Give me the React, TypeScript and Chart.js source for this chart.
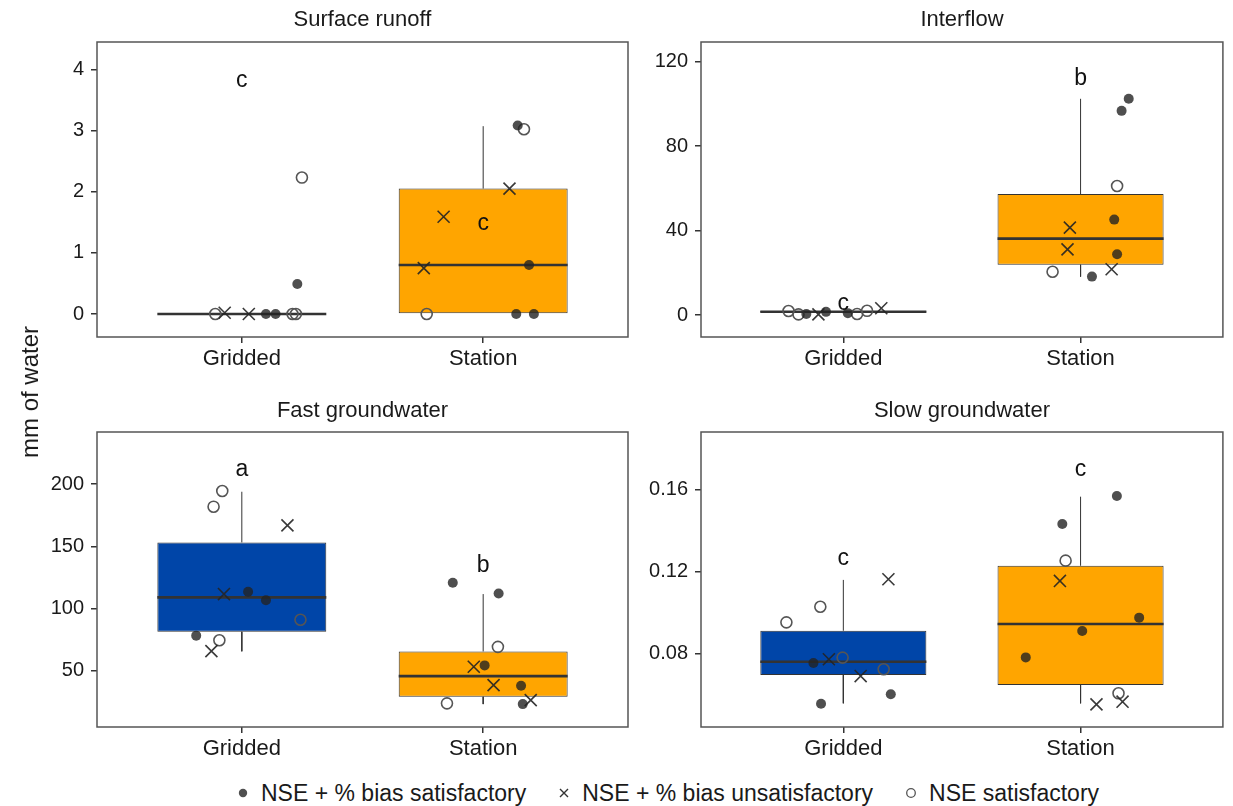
import React, { useEffect, useRef } from 'react';
import { Chart, registerables } from 'chart.js';

Chart.register(...registerables);

const FONT = "'Liberation Sans', Arial, Helvetica, sans-serif";

const CATEGORIES = ['Gridded', 'Station'];
const BOX_COLORS = ['#0045A8', '#FFA500'];
const LEGEND_LABELS = ['NSE + % bias satisfactory', 'NSE + % bias unsatisfactory', 'NSE satisfactory'];

// Box statistics per category: [min, q1, median, q3, max]
// Points: [category, jitter, value]

// Surface runoff
const SR_BOX = [
  [0, 0, 0, 0, 0],
  [0, 0, 0.8, 2.05, 3.07],
];
const SR_SAT = [[1, 0.1, 0], [1, 0.14, 0], [1, 0.23, 0.49], [2, 0.143, 3.08], [2, 0.19, 0.8], [2, 0.137, 0], [2, 0.21, 0]];
const SR_UNSAT = [[1, -0.071, 0.02], [1, 0.029, 0], [2, 0.109, 2.05], [2, -0.164, 1.59], [2, -0.246, 0.75]];
const SR_NSE = [[1, -0.11, 0], [1, 0.21, 0], [1, 0.224, 0], [1, 0.249, 2.23], [2, 0.169, 3.02], [2, -0.234, 0]];
const SR_LETTERS = ['c', 'c'];
const SR_LETTER_Y = [3.81, 1.48];
const SR_TICKS = [0, 1, 2, 3, 4];
const SR_TICK_LABELS = ['0', '1', '2', '3', '4'];

// Interflow
const IF_BOX = [
  [1.2, 1.2, 1.56, 1.9, 1.9],
  [18.2, 23.8, 36.2, 57.3, 102.4],
];
const IF_SAT = [[1, -0.156, 0.5], [1, -0.073, 1.5], [1, 0.019, 0.9], [2, 0.203, 102.4], [2, 0.173, 96.7], [2, 0.142, 45.2], [2, 0.154, 28.8], [2, 0.048, 18.2]];
const IF_UNSAT = [[1, -0.105, 0.3], [1, 0.16, 3.2], [2, -0.045, 41.4], [2, -0.055, 31.1], [2, 0.131, 21.7]];
const IF_NSE = [[1, -0.231, 1.9], [1, -0.189, 0.3], [1, 0.058, 0.5], [1, 0.1, 2.0], [2, 0.154, 61.1], [2, -0.118, 20.5]];
const IF_LETTERS = ['c', 'b'];
const IF_LETTER_Y = [5.5, 111.8];
const IF_TICKS = [0, 40, 80, 120];
const IF_TICK_LABELS = ['0', '40', '80', '120'];

// Fast groundwater
const FG_BOX = [
  [65.6, 81.3, 108.9, 153.1, 193.8],
  [23.2, 29.1, 45.7, 65.5, 111.6],
];
const FG_SAT = [[1, 0.026, 113.5], [1, 0.1, 106.6], [1, -0.189, 78.2], [2, -0.126, 120.7], [2, 0.064, 112.1], [2, 0.006, 54.3], [2, 0.157, 37.9], [2, 0.164, 23.2]];
const FG_UNSAT = [[1, 0.189, 166.8], [1, -0.074, 111.6], [1, -0.126, 65.8], [2, -0.039, 53.2], [2, 0.043, 38.4], [2, 0.197, 26.4]];
const FG_NSE = [[1, -0.081, 194.4], [1, -0.117, 181.8], [1, 0.243, 91.0], [1, -0.093, 74.5], [2, 0.061, 69.2], [2, -0.15, 23.8]];
const FG_LETTERS = ['a', 'b'];
const FG_LETTER_Y = [211.3, 134.4];
const FG_TICKS = [50, 100, 150, 200];
const FG_TICK_LABELS = ['50', '100', '150', '200'];

// Slow groundwater
const SG_BOX = [
  [0.0556, 0.0694, 0.0759, 0.091, 0.1158],
  [0.0556, 0.0645, 0.0943, 0.1227, 0.1564],
];
const SG_SAT = [[1, -0.126, 0.0753], [1, 0.2, 0.06], [1, -0.094, 0.0554], [2, 0.153, 0.1567], [2, -0.077, 0.1431], [2, 0.247, 0.0974], [2, 0.007, 0.0909], [2, -0.231, 0.078]];
const SG_UNSAT = [[1, 0.19, 0.1161], [1, -0.061, 0.0771], [1, 0.073, 0.0689], [2, -0.087, 0.1153], [2, 0.177, 0.0564], [2, 0.067, 0.0551]];
const SG_NSE = [[1, -0.24, 0.0951], [1, -0.097, 0.1027], [1, -0.003, 0.0779], [1, 0.17, 0.0722], [2, -0.063, 0.1252], [2, 0.16, 0.0605]];
const SG_LETTERS = ['c', 'c'];
const SG_LETTER_Y = [0.1263, 0.1694];
const SG_TICKS = [0.08, 0.12, 0.16];
const SG_TICK_LABELS = ['0.08', '0.12', '0.16'];

type PanelProps = {
  title: string;
  box: number[][];
  sat: number[][];
  unsat: number[][];
  nse: number[][];
  letters: string[];
  letterY: number[];
  ticks: number[];
  tickLabels: string[];
  yMin: number;
  yMax: number;
  boxColors: string[];
  left: number;
  top: number;
  width: number;
  height: number;
  yAxisWidth: number;
  padRight: number;
  padBottom: number;
  titlePadTop: number;
  titlePadBottom: number;
};

const BOX_HALF = 0.35;

function Panel(p: PanelProps) {
  const ref = useRef<HTMLCanvasElement | null>(null);
  useEffect(() => {
    if (!ref.current) return;
    const toPts = (arr: number[][]) => arr.map(([c, j, v]) => ({ x: c + j, y: v }));
    const medians: any[] = [];
    const whiskers: any[] = [];
    p.box.forEach((b, i) => {
      const c = i + 1;
      medians.push({ x: c - BOX_HALF, y: b[2] }, { x: c + BOX_HALF, y: b[2] }, { x: c + 0.5, y: null });
      whiskers.push(
        { x: c, y: b[3] }, { x: c, y: b[4] }, { x: c, y: null },
        { x: c, y: b[1] }, { x: c, y: b[0] }, { x: c + 0.5, y: null }
      );
    });

    const framePlugin = {
      id: 'frame',
      afterDatasetsDraw(chart: any) {
        const { ctx, chartArea: a } = chart;
        ctx.save();
        ctx.strokeStyle = '#555555';
        ctx.lineWidth = 1.5;
        ctx.strokeRect(a.left, a.top, a.right - a.left, a.bottom - a.top);
        ctx.restore();
      },
    };
    const letterPlugin = {
      id: 'letters',
      afterDatasetsDraw(chart: any) {
        const { ctx } = chart;
        const xs = chart.scales.x;
        const ys = chart.scales.y;
        ctx.save();
        ctx.font = `23px ${FONT}`;
        ctx.fillStyle = '#111111';
        ctx.textAlign = 'center';
        ctx.textBaseline = 'middle';
        p.letters.forEach((l, i) => {
          ctx.fillText(l, xs.getPixelForValue(i + 1), ys.getPixelForValue(p.letterY[i]));
        });
        ctx.restore();
      },
    };

    const tickFont = { family: FONT, size: 20 };
    const chart = new Chart(ref.current, {
      type: 'bar',
      data: {
        datasets: [
          {
            type: 'scatter',
            label: LEGEND_LABELS[0],
            data: toPts(p.sat),
            pointStyle: 'circle',
            pointRadius: 5,
            backgroundColor: 'rgba(35,35,35,0.8)',
            borderWidth: 0,
            order: 0,
          } as any,
          {
            type: 'scatter',
            label: LEGEND_LABELS[1],
            data: toPts(p.unsat),
            pointStyle: 'crossRot',
            pointRadius: 8.5,
            borderColor: 'rgba(35,35,35,0.9)',
            backgroundColor: 'rgba(35,35,35,0.9)',
            borderWidth: 1.6,
            order: 0,
          },
          {
            type: 'scatter',
            label: LEGEND_LABELS[2],
            data: toPts(p.nse),
            pointStyle: 'circle',
            pointRadius: 5.5,
            backgroundColor: 'rgba(0,0,0,0)',
            borderColor: '#555555',
            borderWidth: 1.6,
            order: 0,
          },
          {
            type: 'line',
            label: 'median',
            data: medians,
            borderColor: '#333333',
            borderWidth: 2.6,
            pointRadius: 0,
            spanGaps: false,
            order: 1,
          },
          {
            type: 'bar',
            label: 'box',
            data: p.box.map((b, i) => ({ x: i + 1, y: [b[1], b[3]] })),
            backgroundColor: p.boxColors,
            borderColor: '#333333',
            borderWidth: 1,
            borderSkipped: false,
            barPercentage: BOX_HALF * 2,
            categoryPercentage: 1,
            order: 2,
          } as any,
          {
            type: 'line',
            label: 'whisker',
            data: whiskers,
            borderColor: '#333333',
            borderWidth: 1,
            pointRadius: 0,
            spanGaps: false,
            order: 3,
          },
        ],
      },
      options: {
        animation: false,
        responsive: false,
        maintainAspectRatio: false,
        layout: { padding: { left: 0, right: p.padRight, top: 0, bottom: p.padBottom } },
        plugins: {
          legend: { display: false },
          tooltip: { enabled: false },
          title: {
            display: true,
            text: p.title,
            fullSize: false,
            color: '#1a1a1a',
            font: { family: FONT, size: 22, weight: 'normal' },
            padding: { top: p.titlePadTop, bottom: p.titlePadBottom },
          },
        },
        scales: {
          x: {
            type: 'linear',
            min: 0.4,
            max: 2.6,
            offset: false,
            afterBuildTicks: (s: any) => {
              s.ticks = CATEGORIES.map((_, i) => ({ value: i + 1 }));
            },
            afterFit: (s: any) => {
              s.height = 40;
            },
            ticks: {
              callback: (v: any) => CATEGORIES[Math.round(Number(v)) - 1],
              font: { family: FONT, size: 22 },
              color: '#1a1a1a',
              padding: 3,
              autoSkip: false,
              maxRotation: 0,
            },
            grid: { display: true, offset: false, drawOnChartArea: false, drawTicks: true, tickLength: 6, color: '#333333', lineWidth: 1.5 },
            border: { display: false },
          },
          y: {
            type: 'linear',
            min: p.yMin,
            max: p.yMax,
            afterBuildTicks: (s: any) => {
              s.ticks = p.ticks.map((v) => ({ value: v }));
            },
            afterFit: (s: any) => {
              s.width = p.yAxisWidth;
            },
            ticks: {
              callback: (_v: any, i: number) => p.tickLabels[i],
              font: tickFont,
              color: '#1a1a1a',
              padding: 7,
            },
            grid: { display: true, drawOnChartArea: false, drawTicks: true, tickLength: 6, color: '#333333', lineWidth: 1.5 },
            border: { display: false },
          },
        },
      } as any,
      plugins: [framePlugin, letterPlugin],
    });
    return () => chart.destroy();
  }, []);
  return (
    <canvas
      ref={ref}
      width={p.width}
      height={p.height}
      style={{ position: 'absolute', left: p.left, top: p.top, width: p.width, height: p.height }}
    />
  );
}

function LegendDot() {
  return (
    <svg width="12" height="12" style={{ marginRight: 12 }}>
      <circle cx="6" cy="6" r="4.2" fill="rgba(35,35,35,0.8)" />
    </svg>
  );
}
function LegendCross() {
  return (
    <svg width="12" height="12" style={{ marginRight: 12 }}>
      <path d="M2 2 L10 10 M10 2 L2 10" stroke="#333" strokeWidth="1.4" />
    </svg>
  );
}
function LegendOpen() {
  return (
    <svg width="12" height="12" style={{ marginRight: 12 }}>
      <circle cx="6" cy="6" r="4.3" fill="none" stroke="#555" strokeWidth="1.3" />
    </svg>
  );
}

export default function App() {
  const top = { top: 0, height: 395, padBottom: 18, titlePadTop: 6.8, titlePadBottom: 8.8 };
  const bottom = { top: 395, height: 380, padBottom: 8, titlePadTop: 2.8, titlePadBottom: 7.8 };
  const left = { left: 0, width: 640, yAxisWidth: 97, padRight: 12 };
  const right = { left: 640, width: 593, yAxisWidth: 61, padRight: 3 };
  return (
    <div style={{ position: 'fixed', left: 0, top: 0, width: 1233, height: 806, background: '#ffffff', overflow: 'hidden' }}>
      <Panel title="Surface runoff" box={SR_BOX} sat={SR_SAT} unsat={SR_UNSAT} nse={SR_NSE}
        letters={SR_LETTERS} letterY={SR_LETTER_Y} ticks={SR_TICKS} tickLabels={SR_TICK_LABELS}
        yMin={-0.376} yMax={4.446} boxColors={BOX_COLORS} {...top} {...left} />
      <Panel title="Interflow" box={IF_BOX} sat={IF_SAT} unsat={IF_UNSAT} nse={IF_NSE}
        letters={IF_LETTERS} letterY={IF_LETTER_Y} ticks={IF_TICKS} tickLabels={IF_TICK_LABELS}
        yMin={-10.4} yMax={129.3} boxColors={BOX_COLORS} {...top} {...right} />
      <Panel title="Fast groundwater" box={FG_BOX} sat={FG_SAT} unsat={FG_UNSAT} nse={FG_NSE}
        letters={FG_LETTERS} letterY={FG_LETTER_Y} ticks={FG_TICKS} tickLabels={FG_TICK_LABELS}
        yMin={4.8} yMax={241.8} boxColors={BOX_COLORS} {...bottom} {...left} />
      <Panel title="Slow groundwater" box={SG_BOX} sat={SG_SAT} unsat={SG_UNSAT} nse={SG_NSE}
        letters={SG_LETTERS} letterY={SG_LETTER_Y} ticks={SG_TICKS} tickLabels={SG_TICK_LABELS}
        yMin={0.04405} yMax={0.18795} boxColors={BOX_COLORS} {...bottom} {...right} />
      <div
        style={{
          position: 'absolute', left: 30, top: 392, transform: 'translate(-50%, -50%) rotate(-90deg)',
          font: `24px ${FONT}`, color: '#1a1a1a', whiteSpace: 'nowrap',
        }}
      >
        mm of water
      </div>
      <div
        style={{
          position: 'absolute', left: 237, top: 778, height: 30, display: 'flex', alignItems: 'center',
          font: `23px ${FONT}`, color: '#1a1a1a', whiteSpace: 'nowrap',
        }}
      >
        <LegendDot />
        <span style={{ marginRight: 32 }}>{LEGEND_LABELS[0]}</span>
        <LegendCross />
        <span style={{ marginRight: 32 }}>{LEGEND_LABELS[1]}</span>
        <LegendOpen />
        <span>{LEGEND_LABELS[2]}</span>
      </div>
    </div>
  );
}
